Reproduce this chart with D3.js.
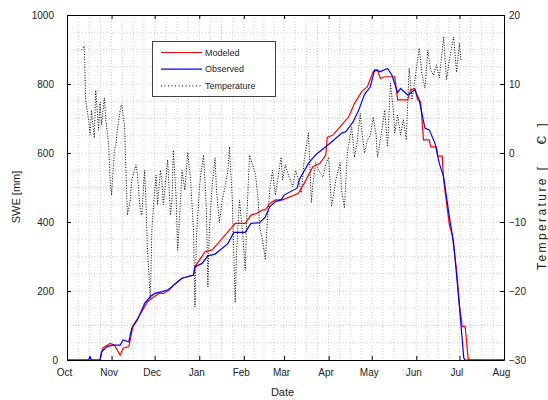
<!DOCTYPE html>
<html><head><meta charset="utf-8">
<script src="https://cdn.jsdelivr.net/npm/d3@7"></script>
<style>body{margin:0;background:#fff}svg text{font-family:"Liberation Sans",Arial,sans-serif}</style>
</head><body><svg id="c" width="548" height="400"></svg>
<script>
// ---- data (day index counted from 1 Oct) ----
const monthLabels = ["Oct","Nov","Dec","Jan","Feb","Mar","Apr","May","Jun","Jul","Aug"];
const sweTicks = [0,200,400,600,800,1000];
const tempTicks = [-30,-20,-10,0,10,20];
const seriesNames = ["Modeled","Observed","Temperature"];

const modeled = [[0,0],[23,0],[25,35],[30,48],[33,43],[37,14],[39,34],[43,39],[44,58],[46,101],[50,126],[52,140],[56,169],[59,179],[64,193],[67,193],[71,203],[74,217],[77,227],[80,237],[88,246],[89,270],[96,314],[101,319],[105,338],[111,367],[117,396],[124,396],[128,420],[132,425],[136,435],[138,435],[141,454],[145,464],[150,464],[161,483],[165,512],[171,560],[176,570],[180,594],[181,645],[185,652],[191,681],[196,705],[200,744],[205,778],[209,792],[213,836],[216,841],[218,816],[221,821],[228,821],[230,754],[237,754],[239,783],[242,787],[244,754],[246,749],[248,638],[252,638],[253,618],[257,618],[258,591],[261,591],[262,522],[266,391],[268,362],[271,261],[273,159],[275,97],[277,97],[279,6],[280,0],[304,0]];

const observed = [[0,0],[15,0],[16,10],[17,0],[23,0],[24,24],[28,39],[32,43],[37,43],[39,58],[43,53],[45,92],[49,116],[51,135],[54,164],[58,184],[61,193],[66,198],[70,203],[73,212],[77,227],[80,237],[88,246],[89,270],[94,280],[98,302],[103,307],[108,324],[112,338],[116,370],[124,370],[128,396],[134,398],[138,415],[141,444],[145,459],[149,464],[151,478],[160,498],[162,526],[168,570],[173,595],[180,618],[184,632],[191,657],[194,662],[199,690],[203,725],[207,770],[211,792],[214,841],[218,836],[223,845],[226,826],[230,775],[232,787],[237,768],[242,783],[245,754],[249,672],[252,667],[256,628],[259,570],[262,531],[266,415],[269,338],[273,155],[276,6],[277,0],[304,0]];

const temperature = [[10,14.9],[12,15.5],[13,7.7],[15,4.8],[16,2.6],[17,6.2],[19,2.2],[20,9.1],[22,3.3],[23,7.4],[24,4.1],[26,8.0],[27,4.8],[29,1.2],[30,-3.9],[31,-6.1],[33,0.4],[34,1.2],[35,3.3],[37,6.2],[38,7.0],[40,4.1],[41,-2.5],[42,-9.0],[44,-6.8],[45,-3.9],[47,-2.5],[48,-1.7],[49,-3.2],[51,-8.3],[52,-9.0],[54,-2.5],[55,-7.5],[56,-14.1],[58,-21.3],[59,-11.2],[61,-5.4],[62,-3.2],[63,-7.5],[65,-2.5],[66,-3.9],[67,-7.5],[69,-3.2],[70,-1.0],[72,-9.0],[73,-6.8],[74,0.4],[76,-6.8],[77,-14.1],[79,-6.8],[80,-2.5],[82,-5.4],[84,0.1],[86,-3.9],[88,-11.2],[89,-22.3],[90,-12.6],[92,-5.4],[93,-3.2],[95,-0.3],[97,-8.3],[98,-19.4],[99,-11.2],[101,-4.6],[103,-0.7],[104,-5.4],[106,-10.1],[108,-6.8],[110,-4.9],[112,-2.5],[113,0.9],[115,-6.8],[117,-21.7],[118,-14.1],[120,-6.8],[122,-11.2],[124,-17.0],[125,-9.7],[127,-0.3],[129,-1.7],[131,-2.9],[133,-6.8],[134,-10.7],[136,-12.6],[138,-15.5],[139,-11.2],[141,-5.4],[143,-2.5],[144,-4.6],[145,-6.1],[147,-3.2],[149,-0.6],[150,-3.9],[152,-1.7],[154,-3.2],[157,-4.9],[159,-2.5],[161,-3.9],[163,-5.8],[165,-1.0],[168,2.9],[170,-7.2],[171,-4.6],[173,-1.4],[175,-2.5],[178,-3.5],[180,-1.7],[182,-0.6],[184,-7.8],[186,-5.4],[187,-3.9],[190,-1.4],[191,-5.4],[193,-8.0],[195,0.0],[198,3.8],[200,-0.6],[202,1.9],[204,5.8],[205,3.3],[207,0.0],[209,1.9],[211,2.6],[213,5.2],[215,2.6],[216,-0.6],[218,1.9],[221,6.2],[223,0.9],[225,10.1],[227,6.2],[228,2.9],[230,5.5],[232,2.6],[234,4.8],[236,1.9],[238,12.3],[240,7.7],[242,10.6],[245,15.2],[247,11.3],[249,9.4],[251,14.9],[253,12.0],[255,11.3],[257,12.8],[259,10.9],[262,16.8],[264,10.6],[266,13.5],[269,16.8],[271,11.7],[273,15.9],[274,13.5]];

// ---- scales ----
const start = new Date(Date.UTC(2000,9,1)), end = new Date(Date.UTC(2001,7,1));
const day = d => d3.utcDay.offset(start, d);
const L = 67, R = 504, T = 15, B = 360;
const x = d3.scaleUtc().domain([start, end]).range([L, R]);
const y = d3.scaleLinear().domain([0, 1000]).range([B, T]);
const yT = d3.scaleLinear().domain([-30, 20]).range([B, T]);

const svg = d3.select("#c");
const monthStarts = d3.utcMonth.range(start, d3.utcDay.offset(end, 1));

// ---- grid ----
const grid = svg.append("g").attr("stroke", "#c4c4c4").attr("stroke-width", 0.8).attr("stroke-dasharray", "1,2");
grid.selectAll("line.h").data(d3.range(50, 1000, 50)).join("line")
  .attr("x1", L).attr("x2", R).attr("y1", d => y(d)).attr("y2", d => y(d));
const vgrid = [];
for (let i = 0; i < monthStarts.length - 1; i++) {
  const a = x(monthStarts[i]), b = x(monthStarts[i + 1]);
  for (let k = (i === 0 ? 1 : 0); k < 4; k++) vgrid.push(a + (b - a) * k / 4);
}
grid.selectAll("line.v").data(vgrid).join("line")
  .attr("x1", d => d).attr("x2", d => d).attr("y1", T).attr("y2", B);

// ---- series ----
const plot = svg.append("g");
svg.append("clipPath").attr("id", "clip").append("rect").attr("x", L).attr("y", T - 1).attr("width", R - L).attr("height", B - T + 2);
plot.attr("clip-path", "url(#clip)");
const sweLine = d3.line().x(d => x(day(d[0]))).y(d => y(d[1]));
const tLine = d3.line().x(d => x(day(d[0]))).y(d => yT(d[1]));
plot.append("path").datum(temperature).attr("d", tLine).attr("fill", "none")
  .attr("stroke", "#000").attr("stroke-width", 1).attr("stroke-dasharray", "1,1.6");
plot.append("path").datum(modeled).attr("d", sweLine).attr("fill", "none")
  .attr("stroke", "#ff0000").attr("stroke-width", 1.2);
plot.append("path").datum(observed).attr("d", sweLine).attr("fill", "none")
  .attr("stroke", "#0000ff").attr("stroke-width", 1.2);

// ---- axes ----
function style(g) {
  g.select(".domain").attr("stroke", "#000");
  g.selectAll(".tick line").attr("stroke", "#000");
  g.selectAll("text").attr("font-size", 10).attr("fill", "#222").attr("font-family", '"Liberation Sans",Arial,sans-serif');
}
svg.append("g").attr("transform", `translate(${L},0)`)
  .call(d3.axisLeft(y).tickValues(sweTicks).tickFormat(d3.format("d")).tickSize(-4).tickSizeOuter(0).tickPadding(13)).call(style)
  .call(g => g.selectAll(".tick text").filter(d => d === 0).attr("dx", 4));
svg.append("g").attr("transform", `translate(${R},0)`)
  .call(d3.axisRight(yT).tickValues(tempTicks).tickFormat(d3.format("d")).tickSize(-4).tickSizeOuter(0).tickPadding(5)).call(style);
svg.append("g").attr("transform", `translate(0,${B})`)
  .call(d3.axisBottom(x).tickValues(monthStarts).tickFormat((d, i) => monthLabels[i]).tickSize(-4).tickSizeOuter(0).tickPadding(9)).call(style)
  .call(g => g.selectAll(".tick text").attr("dx", -3));
svg.append("g").attr("transform", `translate(0,${T})`)
  .call(d3.axisTop(x).tickValues(monthStarts).tickFormat("").tickSize(-4).tickSizeOuter(0)).call(style);

// ---- axis titles ----
svg.append("text").attr("x", 282.5).attr("y", 396).attr("text-anchor", "middle")
  .attr("font-size", 11).attr("fill", "#222").text("Date");
svg.append("text").attr("transform", "translate(20,197) rotate(-90)").attr("text-anchor", "middle")
  .attr("font-size", 11).attr("fill", "#222").text("SWE [mm]");
svg.append("text").attr("transform", "translate(545.5,270) rotate(-90)")
  .attr("font-size", 12).attr("fill", "#222").attr("textLength", 103).attr("lengthAdjust", "spacing").text("Temperature [");
svg.append("text").attr("transform", "translate(547,144) rotate(-90)")
  .attr("font-size", 10).attr("fill", "#000").text("°");
svg.append("text").attr("transform", "translate(545.5,144.5) rotate(-90)")
  .attr("font-size", 12).attr("fill", "#222").attr("textLength", 21).attr("lengthAdjust", "spacing").text("C ]");

// ---- legend ----
const lg = svg.append("g");
lg.append("rect").attr("x", 152.5).attr("y", 41.5).attr("width", 123).attr("height", 55)
  .attr("fill", "#fff").attr("stroke", "#404040").attr("stroke-width", 1);
const lstyles = [
  {c: "#ff0000", dash: null},
  {c: "#0000ff", dash: null},
  {c: "#000", dash: "1,2.5"}
];
seriesNames.forEach((n, i) => {
  const yy = 52.5 + i * 16.7;
  lg.append("line").attr("x1", 161).attr("x2", 202).attr("y1", yy).attr("y2", yy)
    .attr("stroke", lstyles[i].c).attr("stroke-width", lstyles[i].dash ? 1 : 1.2)
    .attr("stroke-dasharray", lstyles[i].dash);
  lg.append("text").attr("x", 205).attr("y", yy + 3.2).attr("font-size", 9).attr("fill", "#222").text(n);
});
</script></body></html>
